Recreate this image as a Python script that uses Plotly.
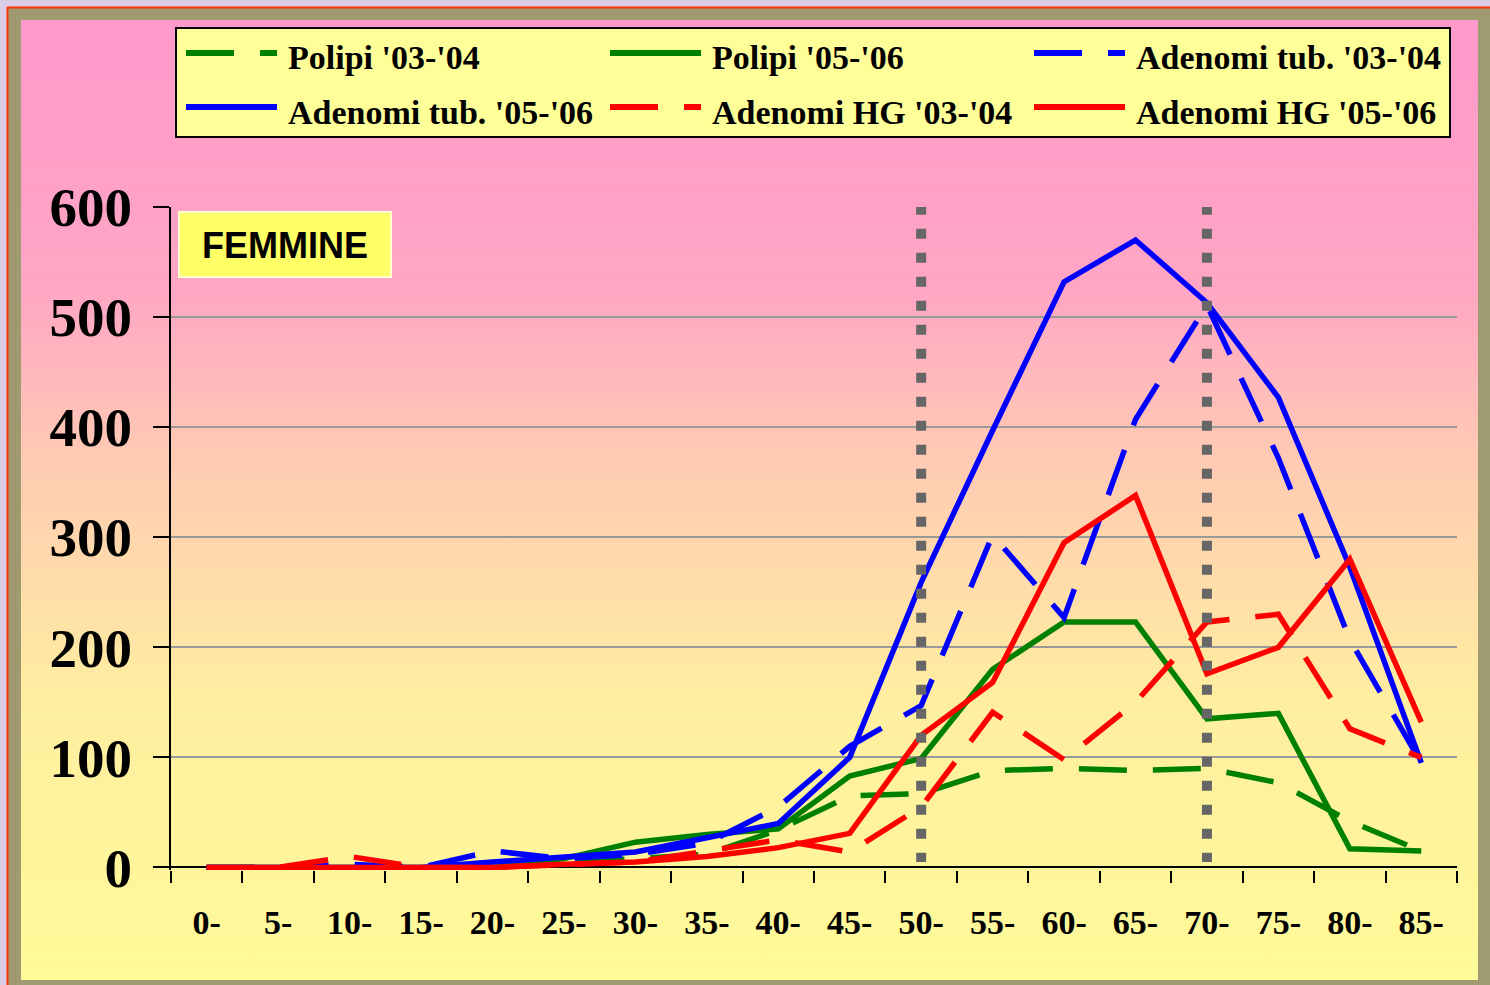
import base64
import plotly.graph_objects as go

# ---------------- data ----------------
categories = ["0-", "5-", "10-", "15-", "20-", "25-", "30-", "35-", "40-",
              "45-", "50-", "55-", "60-", "65-", "70-", "75-", "80-", "85-"]
polipi_0304 = [0, 0, 0, 0, 0, 4, 8, 12, 34, 65, 67, 88, 90, 88, 90, 77, 42, 15]
polipi_0506 = [0, 0, 0, 0, 0, 8, 23, 30, 35, 83, 99, 180, 223, 223, 135, 140, 17, 15]
adtub_0304 = [0, 0, 3, 0, 15, 8, 12, 22, 55, 110, 147, 302, 227, 407, 511, 372, 207, 95]
adtub_0506 = [0, 0, 0, 0, 5, 10, 14, 27, 40, 100, 259, 397, 532, 570, 513, 427, 273, 95]
adhg_0304 = [0, 0, 10, 0, 0, 2, 5, 15, 25, 14, 55, 141, 98, 150, 223, 230, 126, 100]
adhg_0506 = [0, 0, 0, 0, 0, 3, 5, 10, 18, 31, 120, 168, 295, 338, 176, 200, 280, 132]
series_names = ["Polipi '03-'04", "Polipi '05-'06", "Adenomi tub. '03-'04",
                "Adenomi tub. '05-'06", "Adenomi HG '03-'04", "Adenomi HG '05-'06"]
y_ticks = [0, 100, 200, 300, 400, 500, 600]
marker_categories = ["50-", "70-"]
panel_label = "FEMMINE"

# ---------------- geometry helpers ----------------
W, H = 1490, 985
ML, MR, MT, MB = 171, 33, 207, 115
PW, PH = W - ML - MR, H - MT - MB


def fx(px):
    return (px - ML) / PW


def fy(py):
    return (H - MB - py) / PH


SERIF = "Liberation Serif, Times New Roman, serif"
SANS = "Liberation Sans, Arial, sans-serif"
DASH = "48px,26px"

series = [
    (series_names[0], polipi_0304, "#008000", DASH),
    (series_names[1], polipi_0506, "#008000", "solid"),
    (series_names[2], adtub_0304, "#0000FF", DASH),
    (series_names[3], adtub_0506, "#0000FF", "solid"),
    (series_names[4], adhg_0304, "#FF0000", DASH),
    (series_names[5], adhg_0506, "#FF0000", "solid"),
]

fig = go.Figure()
for name, vals, col, dash in series:
    fig.add_trace(go.Scatter(
        x=categories, y=vals, mode="lines", name=name,
        line=dict(color=col, width=5.5, dash=dash),
        showlegend=False, hoverinfo="x+y+name",
    ))

# ---------------- background gradient ----------------
svg = (
    '<svg xmlns="http://www.w3.org/2000/svg" width="100" height="100" '
    'preserveAspectRatio="none" viewBox="0 0 100 100">'
    '<defs><linearGradient id="g" x1="0" y1="0" x2="0" y2="1">'
    '<stop offset="0" stop-color="#FF99CC"/>'
    '<stop offset="0.28" stop-color="#FFA6C4"/>'
    '<stop offset="0.45" stop-color="#FFC9B4"/>'
    '<stop offset="0.71" stop-color="#FFEEA0"/>'
    '<stop offset="1" stop-color="#FFFB99"/>'
    '</linearGradient></defs>'
    '<rect x="0" y="0" width="100" height="100" fill="url(#g)"/></svg>'
)
src = "data:image/svg+xml;base64," + base64.b64encode(svg.encode()).decode()
images = [dict(source=src, xref="paper", yref="paper",
               x=fx(21), y=fy(20), sizex=fx(1478) - fx(21), sizey=fy(20) - fy(980),
               xanchor="left", yanchor="top", sizing="stretch", layer="below")]

shapes = []
# outer lavender frame + red edge
shapes.append(dict(type="rect", xref="paper", yref="paper", x0=fx(-20), x1=fx(7),
                   y0=fy(-20), y1=fy(1000), fillcolor="#DCCCE8", line=dict(width=0), layer="below"))
shapes.append(dict(type="rect", xref="paper", yref="paper", x0=fx(-20), x1=fx(1510),
                   y0=fy(-20), y1=fy(7), fillcolor="#DCCCE8", line=dict(width=0), layer="below"))
shapes.append(dict(type="line", xref="paper", yref="paper", x0=fx(7.5), x1=fx(7.5),
                   y0=fy(7), y1=fy(1000), line=dict(color="#FF3300", width=2), layer="below"))
shapes.append(dict(type="line", xref="paper", yref="paper", x0=fx(7), x1=fx(1510),
                   y0=fy(7.5), y1=fy(7.5), line=dict(color="#FF3300", width=2), layer="below"))

# legend box
shapes.append(dict(type="rect", xref="paper", yref="paper", x0=fx(176), x1=fx(1450),
                   y0=fy(28), y1=fy(137), fillcolor="#FFFF99",
                   line=dict(color="black", width=2), layer="below"))

annotations = []
col_x = [186, 610, 1034]
row_y = [53, 107]
for i, (name, vals, col, dash) in enumerate(series):
    r, c = divmod(i, 3)
    x0 = col_x[c]
    y = row_y[r]
    shapes.append(dict(type="line", xref="paper", yref="paper", x0=fx(x0), x1=fx(x0 + 91),
                       y0=fy(y), y1=fy(y), line=dict(color=col, width=6, dash=dash),
                       layer="above"))
    annotations.append(dict(text="<b>%s</b>" % name, xref="paper", yref="paper",
                            x=fx(x0 + 100), y=fy(y + 5), xanchor="left", yanchor="middle",
                            showarrow=False, font=dict(family=SERIF, size=34, color="black")))

# FEMMINE box
shapes.append(dict(type="rect", xref="paper", yref="paper", x0=fx(179), x1=fx(391),
                   y0=fy(212), y1=fy(277), fillcolor="#FFFF66",
                   line=dict(color="#FFFFD0", width=2), layer="above"))
annotations.append(dict(text="<b>%s</b>" % panel_label, xref="paper", yref="paper",
                        x=fx(285), y=fy(245), xanchor="center", yanchor="middle",
                        showarrow=False, font=dict(family=SANS, size=36, color="black")))

# dotted vertical reference lines
for cat in marker_categories:
    xi = categories.index(cat)
    shapes.append(dict(type="line", xref="x", yref="y", x0=xi, x1=xi, y0=602, y1=5,
                       line=dict(color="#666666", width=10, dash="10px,14px"), layer="above"))

fig.update_layout(
    width=W, height=H,
    margin=dict(l=ML, r=MR, t=MT, b=MB, pad=0),
    paper_bgcolor="#A09A70",
    plot_bgcolor="rgba(0,0,0,0)",
    images=images, shapes=shapes, annotations=annotations,
    showlegend=False,
    xaxis=dict(
        type="category", range=[-0.5, len(categories) - 0.5],
        tickson="boundaries", ticks="outside", ticklen=12, tickwidth=2, tickcolor="black",
        showline=False, showgrid=False, zeroline=False,
        tickfont=dict(family=SERIF, size=34, color="black"),
        tickvals=categories, ticktext=["<b>%s</b>" % c for c in categories],
        ticklabelstandoff=29, automargin=False, fixedrange=True,
    ),
    yaxis=dict(
        range=[-2.3, 600], tickvals=y_ticks, ticktext=["<b>%d</b>" % v for v in y_ticks],
        ticks="outside", ticklen=16, tickwidth=2, tickcolor="black",
        showline=True, linecolor="black", linewidth=2,
        showgrid=True, gridcolor="#999999", gridwidth=2,
        zeroline=True, zerolinecolor="black", zerolinewidth=2,
        tickfont=dict(family=SERIF, size=55, color="black"),
        ticklabelstandoff=10, automargin=False, fixedrange=True,
    ),
)

fig.write_html(
    "out.html",
    config={"displayModeBar": False},
    post_script="document.body.style.margin='0';document.body.style.overflow='hidden';",
)
